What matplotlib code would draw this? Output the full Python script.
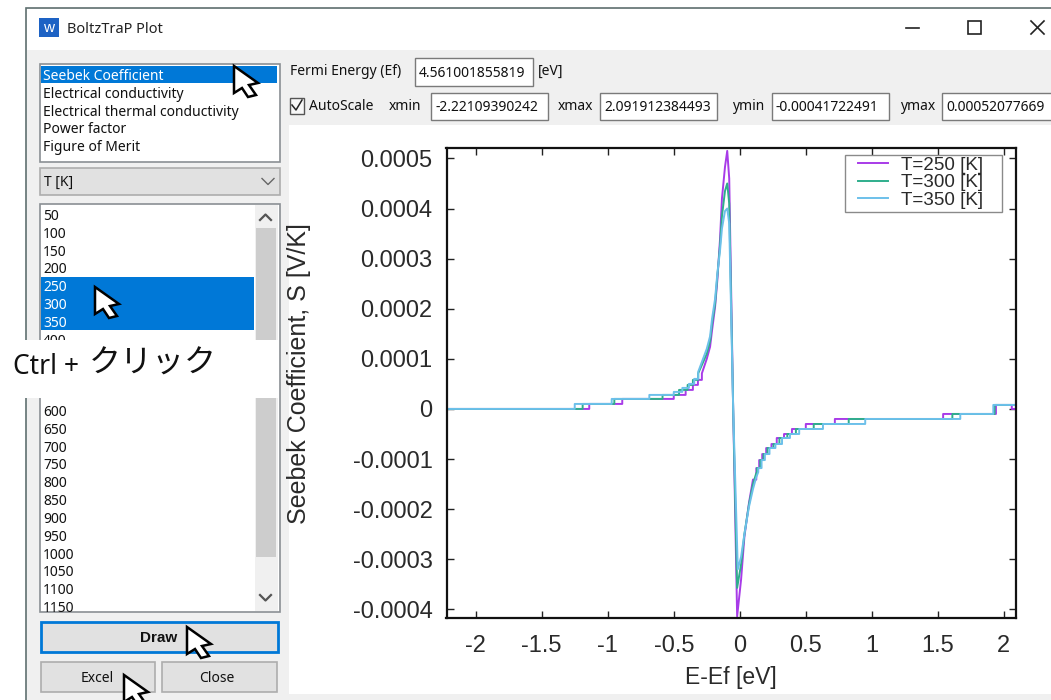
#!/usr/bin/env python3
"""BoltzTraP Plot window: Seebek coefficient vs E-Ef for three temperatures."""
import matplotlib
matplotlib.use("Agg")
import matplotlib.pyplot as plt
from matplotlib.patches import Polygon, Rectangle

W, H = 1051, 700
UI_FONT = ["Noto Sans", "Noto Sans CJK JP", "DejaVu Sans"]
PLOT_FONT = "Liberation Sans"

XMIN, XMAX = -2.22109, 2.09191
YMIN, YMAX = -0.00041722, 0.00052078

# S is in units of 1e-5 V/K below
LEFT_EDGES_250 = [-1.14, -0.89, -0.50, -0.41, -0.355, -0.317, -0.287]
LEFT_EDGES_300 = [-1.19, -0.95, -0.585, -0.46, -0.395, -0.355, -0.315]
LEFT_EDGES_350 = [-1.25, -0.97, -0.685, -0.50, -0.435, -0.385, -0.345, -0.315]
LEFT_LEVELS_250 = [1.0, 2.0, 2.8, 3.8, 4.8, 5.8, 7.1]
LEFT_LEVELS_300 = [1.0, 2.0, 2.8, 3.8, 4.8, 5.8, 7.1]
LEFT_LEVELS_350 = [1.0, 2.0, 2.8, 3.4, 4.2, 5.0, 6.0, 7.4]

CORE_X_250 = [-0.25, -0.225, -0.21, -0.187, -0.17, -0.15, -0.135, -0.112, -0.095, -0.08,
              -0.05, -0.02, 0.01, 0.035, 0.07, 0.10]
CORE_S_250 = [10.0, 12.4, 15.7, 20.4, 25.7, 33.7, 42.0, 48.3, 51.5, 46.0,
              0.0, -41.4, -34.0, -25.5, -18.7, -14.1]
CORE_X_300 = [-0.25, -0.225, -0.21, -0.187, -0.17, -0.15, -0.135, -0.112, -0.095, -0.08,
              -0.05, -0.02, 0.01, 0.035, 0.07, 0.10, 0.125]
CORE_S_300 = [11.0, 13.5, 17.0, 21.0, 26.5, 32.5, 38.5, 43.5, 45.0, 41.0,
              0.0, -35.7, -31.0, -25.0, -19.0, -15.0, -12.8]
CORE_X_350 = [-0.25, -0.225, -0.21, -0.187, -0.17, -0.15, -0.135, -0.112, -0.095, -0.08,
              -0.05, -0.015, 0.01, 0.035, 0.07, 0.10, 0.125, 0.14]
CORE_S_350 = [12.0, 14.5, 18.0, 22.0, 27.0, 31.5, 36.0, 39.5, 40.0, 37.0,
              0.0, -32.0, -29.5, -25.0, -19.5, -16.0, -13.6, -12.6]

RIGHT_EDGES_250 = [0.125, 0.147, 0.17, 0.20, 0.24, 0.28, 0.335, 0.395, 0.50, 0.72, 1.54, 1.94, 2.06]
RIGHT_EDGES_300 = [0.13, 0.155, 0.18, 0.21, 0.255, 0.30, 0.36, 0.425, 0.56, 0.825, 1.61, 1.93]
RIGHT_EDGES_350 = [0.14, 0.165, 0.19, 0.225, 0.27, 0.32, 0.38, 0.45, 0.63, 0.95, 1.67, 1.92]
RIGHT_LEVELS_250 = [-11.8, -10.2, -9.0, -7.8, -7.0, -5.8, -5.0, -4.0, -3.0, -2.0, -1.0, 0.8, 0.0]
RIGHT_LEVELS_300 = [-11.8, -10.2, -9.0, -7.8, -7.0, -5.8, -5.0, -4.0, -3.0, -2.0, -1.0, 0.8]
RIGHT_LEVELS_350 = [-11.8, -10.2, -9.0, -7.8, -7.0, -5.8, -5.0, -4.0, -3.0, -2.0, -1.0, 0.8]

SERIES_LABELS = ["T=250 [K]", "T=300 [K]", "T=350 [K]"]
XTICKS = [-2, -1.5, -1, -0.5, 0, 0.5, 1, 1.5, 2]
XTICK_LABELS = ["-2", "-1.5", "-1", "-0.5", "0", "0.5", "1", "1.5", "2"]
YTICKS = [0.0005, 0.0004, 0.0003, 0.0002, 0.0001, 0, -0.0001, -0.0002, -0.0003, -0.0004]
YTICK_LABELS = ["0.0005", "0.0004", "0.0003", "0.0002", "0.0001", "0",
                "-0.0001", "-0.0002", "-0.0003", "-0.0004"]

QUANTITIES = ["Seebek Coefficient", "Electrical conductivity",
              "Electrical thermal conductivity", "Power factor", "Figure of Merit"]
# rows 450-550 sit behind the white note box
TEMPERATURES = [50, 100, 150, 200, 250, 300, 350, 400, 600, 650, 700,
                750, 800, 850, 900, 950, 1000, 1050, 1100, 1150]
SELECTED_T = [250, 300, 350]

COLORS = ["#a83be8", "#2fae8c", "#6cc0ea"]
BLUE = "#0078d7"
CLIENT = "#f0f0f0"


def curve(left_edges, left_levels, core_x, core_s, right_edges, right_levels):
    xs, ys = [XMIN], [0.0]
    for e, lv in zip(left_edges, left_levels):
        xs += [e, e]
        ys += [ys[-1], lv]
    xs += core_x
    ys += core_s
    for e, lv in zip(right_edges, right_levels):
        xs += [e, e]
        ys += [ys[-1], lv]
    xs.append(XMAX)
    ys.append(ys[-1])
    return xs, [y * 1e-5 for y in ys]


def rect(ui, x0, y0, x1, y1, face, edge="none", lw=0.0, z=1):
    ui.add_patch(Rectangle((x0, y0), x1 - x0, y1 - y0, facecolor=face, edgecolor=edge, linewidth=lw, zorder=z))


def label(ui, x, y, s, size=10, color="#111111", ha="left", z=5, **kw):
    kw.setdefault("family", UI_FONT)
    ui.text(x, y + 1.5, s, fontsize=size, color=color, ha=ha, va="center", zorder=z, **kw)


def cursor(ui, x, y):
    offs = [(0, 0), (0, 27), (8, 22), (14, 31), (22, 29), (15, 19), (24, 17)]
    ui.add_patch(Polygon([(x + a, y + b) for a, b in offs], closed=True, facecolor="white",
                         edgecolor="black", linewidth=1.8, zorder=9, joinstyle="miter"))


def field(ui, x0, x1, y0, y1, s):
    rect(ui, x0, y0, x1, y1, "white", "#7a7a7a", 1.0, z=2)
    t = ui.text(x0 + 4, (y0 + y1) / 2 + 1.5, s, fontsize=10, color="#111111", va="center",
                family=UI_FONT, zorder=5)
    t.set_clip_path(Rectangle((x0, y0), x1 - x0 - 1, y1 - y0, transform=ui.transData))


def draw_window(ui):
    rect(ui, 26, 8, W + 5, H + 5, CLIENT, "#5f7070", 1.2, z=0)
    rect(ui, 27, 9, W, 50, "white")

    # title bar
    ui.add_patch(Rectangle((39, 18), 20, 19, facecolor="#1d62c4", edgecolor="none", zorder=2))
    ui.text(49, 27.5, "w", fontsize=11, color="white", ha="center", va="center", zorder=3)
    label(ui, 67, 28, "BoltzTraP Plot", size=10.5, color="#222222")
    ui.plot([906, 919], [28, 28], color="#222222", lw=1.2, zorder=3)
    rect(ui, 968, 21, 981, 34, "none", "#222222", 1.2, z=3)
    ui.plot([1031, 1044], [21, 34], color="#222222", lw=1.2, zorder=3)
    ui.plot([1031, 1044], [34, 21], color="#222222", lw=1.2, zorder=3)

    # quantity list
    rect(ui, 39.5, 63.5, 279.5, 162, "white", "#8a8f94", 1.2, z=2)
    rect(ui, 41, 66, 277, 83, BLUE, z=3)
    for i, q in enumerate(QUANTITIES):
        label(ui, 43, 75 + i * 17.8, q, color="white" if i == 0 else "#111111")

    # combobox
    rect(ui, 39.5, 167.5, 279.5, 195, "#e1e1e1", "#adadad", 1.2, z=2)
    label(ui, 44, 181, "T [K]")
    ui.plot([262, 268, 274], [178.5, 184.5, 178.5], color="#666666", lw=1.0, zorder=3)

    # temperature list
    rect(ui, 39.5, 203.5, 279.5, 612, "white", "#8a8f94", 1.2, z=2)
    rect(ui, 255, 205, 278, 611, CLIENT, z=3)
    rect(ui, 256, 228, 276, 557, "#cdcdcd", z=3)
    ui.plot([260, 265.5, 271], [220, 214.5, 220], color="#555555", lw=1.6, zorder=4)
    ui.plot([260, 265.5, 271], [595, 600.5, 595], color="#555555", lw=1.6, zorder=4)
    rect(ui, 41, 277, 254, 329.5, BLUE, z=3)
    for t in TEMPERATURES:
        row = t / 50 - 1
        label(ui, 43, 215 + row * 17.82, str(t), color="white" if t in SELECTED_T else "#111111")
    rect(ui, 39, 612.5, 281, 620, CLIENT, z=6)

    # overlay note
    rect(ui, 0, 340, 278, 397.5, "white", z=7)
    label(ui, 13, 366, "Ctrl +", size=19, color="#111111", z=8)
    label(ui, 89, 363, "クリック", size=23, color="#111111", z=8)

    # buttons
    rect(ui, 40.5, 621.5, 277.5, 651.5, "#e1e1e1", BLUE, 2.0, z=2)
    label(ui, 159, 636, "Draw", size=11, ha="center", fontweight="bold", family="Liberation Sans")
    rect(ui, 40.5, 662, 155, 692, "#e1e1e1", "#adadad", 1.2, z=2)
    label(ui, 97, 677, "Excel", ha="center")
    rect(ui, 162, 662, 277, 692, "#e1e1e1", "#adadad", 1.2, z=2)
    label(ui, 217, 677, "Close", ha="center")

    # top controls
    label(ui, 290, 70, "Fermi Energy (Ef)")
    field(ui, 415, 533, 57.5, 86, "4.561001855819")
    label(ui, 538, 70, "[eV]")
    rect(ui, 289.5, 97.5, 304, 114, "#f7f7f7", "#555555", 1.0, z=2)
    ui.plot([292, 296, 302], [105, 110, 100], color="#222222", lw=1.1, zorder=3)
    label(ui, 309, 105, "AutoScale")
    label(ui, 362, 105, "")
    label(ui, 389, 105, "xmin")
    field(ui, 431, 548, 92.5, 120, "-2.22109390242")
    label(ui, 558, 105, "xmax")
    field(ui, 600, 717, 92.5, 120, "2.091912384493")
    label(ui, 732, 105, "ymin")
    field(ui, 772, 889, 92.5, 120, "-0.00041722491")
    label(ui, 900, 105, "ymax")
    field(ui, 942, W + 3, 92.5, 120, "0.00052077669")

    # plot background
    rect(ui, 289, 125, W + 2, 694, "white", z=1)


def draw_plot(ax):
    data = [
        curve(LEFT_EDGES_250, LEFT_LEVELS_250, CORE_X_250, CORE_S_250, RIGHT_EDGES_250, RIGHT_LEVELS_250),
        curve(LEFT_EDGES_300, LEFT_LEVELS_300, CORE_X_300, CORE_S_300, RIGHT_EDGES_300, RIGHT_LEVELS_300),
        curve(LEFT_EDGES_350, LEFT_LEVELS_350, CORE_X_350, CORE_S_350, RIGHT_EDGES_350, RIGHT_LEVELS_350),
    ]
    for (xs, ys), c, lab in zip(data, COLORS, SERIES_LABELS):
        ax.plot(xs, ys, color=c, lw=1.4, label=lab, solid_joinstyle="round")
    ax.set_xlim(XMIN, XMAX)
    ax.set_ylim(YMIN, YMAX)
    ax.set_xticks(XTICKS)
    ax.set_xticklabels(XTICK_LABELS)
    ax.set_yticks(YTICKS)
    ax.set_yticklabels(YTICK_LABELS)
    ax.tick_params(direction="in", length=5, width=1.0, top=True, right=True, labelsize=17,
                   labelcolor="#2a2a2a", color="#222222")
    ax.tick_params(axis="x", pad=12)
    ax.tick_params(axis="y", pad=10)
    for s in ax.spines.values():
        s.set_linewidth(1.6)
        s.set_color("#111111")
    ax.set_xlabel("E-Ef [eV]", fontsize=16.5, color="#2a2a2a", labelpad=7)
    ax.set_ylabel("Seebek Coefficient, S [V/K]", fontsize=18, color="#2a2a2a")
    ax.yaxis.set_label_coords(-0.238, 0.52)

    # gnuplot style key: the frame is wider than the entries, so it is drawn on its own
    fig = ax.figure
    ax.add_patch(Rectangle((845 / W, 1 - 212 / H), 157 / W, 57 / H, transform=fig.transFigure,
                           facecolor="white", edgecolor="#8a8a8a", linewidth=1.0, zorder=4))
    leg = ax.legend(loc="upper right", bbox_to_anchor=(985 / W, 1 - 155 / H), bbox_transform=fig.transFigure,
                    fontsize=13.6, frameon=False, labelspacing=0.0, borderpad=0.1, handlelength=1.6,
                    handletextpad=0.7, borderaxespad=0.0)
    for t in leg.get_texts():
        t.set_color("#2a2a2a")


def main():
    plt.rcParams["font.family"] = PLOT_FONT
    plt.rcParams["axes.unicode_minus"] = False
    fig = plt.figure(figsize=(W / 100, H / 100), dpi=100, facecolor="white")

    ui = fig.add_axes([0, 0, 1, 1])
    ui.set_xlim(0, W)
    ui.set_ylim(H, 0)
    ui.axis("off")
    draw_window(ui)
    for xy in [(234, 66), (95, 287), (187, 627), (124, 675)]:
        cursor(ui, *xy)

    ax = fig.add_axes([446.5 / W, 1 - 618 / H, (1016 - 446.5) / W, (618 - 148) / H])
    draw_plot(ax)

    fig.savefig("out.png", dpi=100, facecolor="white")
    plt.close(fig)


if __name__ == "__main__":
    main()
